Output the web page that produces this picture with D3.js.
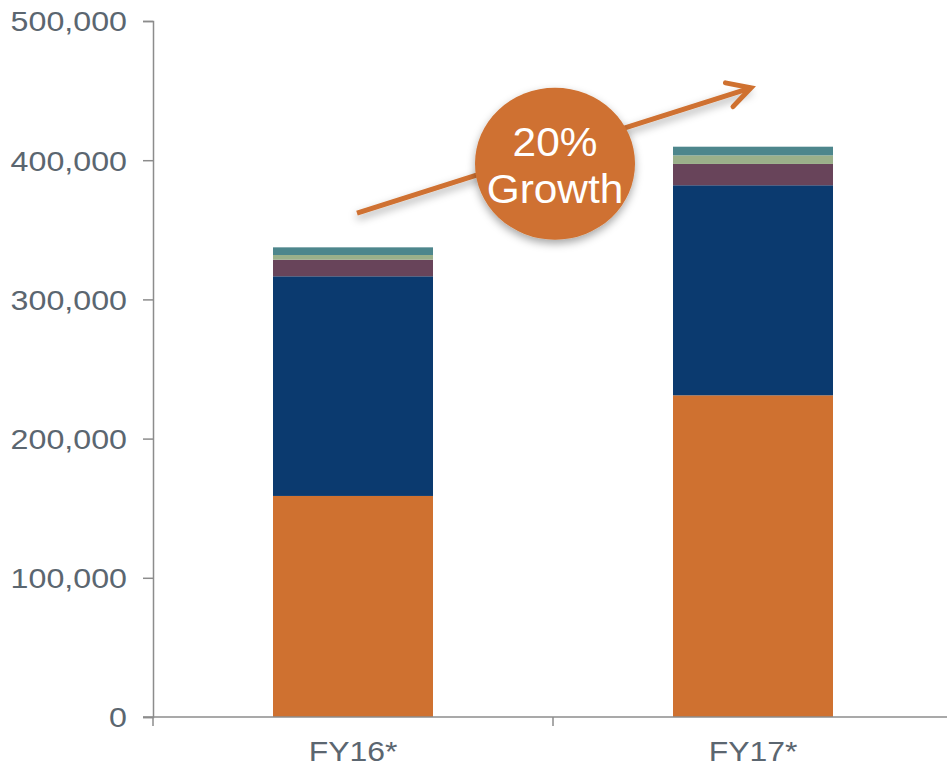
<!DOCTYPE html>
<html>
<head>
<meta charset="utf-8">
<script src="https://cdn.jsdelivr.net/npm/d3@7"></script>
<style>
  body { margin: 0; background: #fff; }
  text { font-family: "Liberation Sans", Arial, sans-serif; }
</style>
</head>
<body>
<div id="chart"></div>
<script>
var svgWidth = 947;
var svgHeight = 769;

var margin = { top: 21, right: -6, bottom: 52, left: 153 };
var width = svgWidth - margin.left - margin.right;
var height = svgHeight - margin.top - margin.bottom;

// data
var years = ["FY16*", "FY17*"];
var seriesKeys = ["s1", "s2", "s3", "s4", "s5"];
var s1 = [158800, 231100];
var s2 = [157800, 150900];
var s3 = [11900, 15300];
var s4 = [3400, 6200];
var s5 = [5500, 6200];
var yTicks = [0, 100000, 200000, 300000, 400000, 500000];
var colors = ["#cf7130", "#0b3a6f", "#68445a", "#9bb08a", "#4d868c"];
var growthLabel = ["20%", "Growth"];

var rows = years.map(function (y, i) {
  return { year: y, s1: s1[i], s2: s2[i], s3: s3[i], s4: s4[i], s5: s5[i] };
});

var svg = d3.select("#chart")
  .append("svg")
  .attr("width", svgWidth)
  .attr("height", svgHeight);

var chartGroup = svg.append("g")
  .attr("transform", `translate(${margin.left}, ${margin.top})`);

var x = d3.scaleBand()
  .domain(years)
  .range([0, width])
  .paddingInner(0.6)
  .paddingOuter(0.3);

var y = d3.scaleLinear()
  .domain([0, 500000])
  .range([height, 0]);

var axisColor = "#8c8c8c";
var labelColor = "#5b6670";

// the source font runs a bit wider than Liberation Sans
function stretch(sel, k) {
  sel.each(function () {
    var w = this.getComputedTextLength();
    d3.select(this)
      .attr("textLength", w * k)
      .attr("lengthAdjust", "spacingAndGlyphs");
  });
}

// y axis
var leftAxis = d3.axisLeft(y)
  .tickValues(yTicks)
  .tickSize(10)
  .tickPadding(16)
  .tickFormat(d3.format(","));

var yAxisG = chartGroup.append("g").call(leftAxis);
yAxisG.select(".domain").attr("stroke", axisColor).attr("stroke-width", 1.5);
yAxisG.selectAll(".tick line").attr("stroke", axisColor).attr("stroke-width", 1.5);
yAxisG.selectAll(".tick text")
  .attr("fill", labelColor)
  .style("font-size", "28.5px")
  .attr("dy", "0.35em")
  .call(stretch, 1.13);

// stacked bars
var stacked = d3.stack().keys(seriesKeys)(rows);

chartGroup.append("g")
  .selectAll("g")
  .data(stacked)
  .enter().append("g")
    .attr("fill", function (d, i) { return colors[i]; })
  .selectAll("rect")
  .data(function (d) { return d; })
  .enter().append("rect")
    .attr("x", function (d) { return x(d.data.year); })
    .attr("y", function (d) { return y(d[1]); })
    .attr("height", function (d) { return y(d[0]) - y(d[1]); })
    .attr("width", x.bandwidth());

// x axis: labels centred, ticks on band boundaries
var bottomAxis = d3.axisBottom(x).tickSize(0).tickPadding(24);
var xAxisG = chartGroup.append("g")
  .attr("transform", `translate(0, ${height})`)
  .call(bottomAxis);
xAxisG.select(".domain").remove();
xAxisG.selectAll(".tick text")
  .attr("fill", labelColor)
  .style("font-size", "28.5px")
  .attr("dy", "0.71em")
  .call(stretch, 1.12);

chartGroup.append("line")
  .attr("x1", -10).attr("x2", width)
  .attr("y1", height).attr("y2", height)
  .attr("stroke", axisColor).attr("stroke-width", 1.5);

var step = x.step();
var bounds = [0, step, 2 * step];
chartGroup.selectAll(".xtick")
  .data(bounds)
  .enter().append("line")
    .attr("class", "xtick")
    .attr("x1", d => d).attr("x2", d => d)
    .attr("y1", height).attr("y2", height + 9)
    .attr("stroke", axisColor).attr("stroke-width", 1.5);

// growth annotation
var orange = colors[0];
var defs = svg.append("defs");
var shadow = defs.append("filter").attr("id", "shadow")
  .attr("x", "-30%").attr("y", "-30%").attr("width", "160%").attr("height", "170%");
shadow.append("feDropShadow")
  .attr("dx", 0).attr("dy", 4).attr("stdDeviation", 4)
  .attr("flood-color", "#000").attr("flood-opacity", 0.35);

var ax1 = x(years[0]) + x.bandwidth() / 2 + 4;
var ax2 = x(years[1]) + x.bandwidth() / 2 - 2;
var ay1 = y(362000);
var ay2 = y(452000);

chartGroup.append("line")
  .attr("x1", ax1).attr("y1", ay1)
  .attr("x2", ax2).attr("y2", ay2)
  .attr("stroke", orange).attr("stroke-width", 5)
  .attr("filter", "url(#shadow)");

var ang = Math.atan2(ay2 - ay1, ax2 - ax1);
var headLen = 26;
var spread = 0.5;
var head = [
  [ax2 - headLen * Math.cos(ang - spread), ay2 - headLen * Math.sin(ang - spread)],
  [ax2, ay2],
  [ax2 - headLen * Math.cos(ang + spread), ay2 - headLen * Math.sin(ang + spread)]
];
chartGroup.append("path")
  .attr("d", d3.line()(head))
  .attr("fill", "none")
  .attr("stroke", orange)
  .attr("stroke-width", 5)
  .attr("stroke-linejoin", "miter")
  .attr("stroke-linecap", "round");

var cx = step + 2;
var cy = y(397500);
chartGroup.append("ellipse")
  .attr("cx", cx).attr("cy", cy).attr("rx", 80).attr("ry", 76)
  .attr("fill", orange)
  .attr("filter", "url(#shadow)");

chartGroup.selectAll(".growth")
  .data(growthLabel)
  .enter().append("text")
    .attr("class", "growth")
    .attr("x", cx)
    .attr("y", (d, i) => cy - 8 + i * 47)
    .attr("text-anchor", "middle")
    .attr("fill", "#fff")
    .style("font-size", "40px")
    .text(d => d)
    .call(stretch, 1.06);
</script>
</body>
</html>
